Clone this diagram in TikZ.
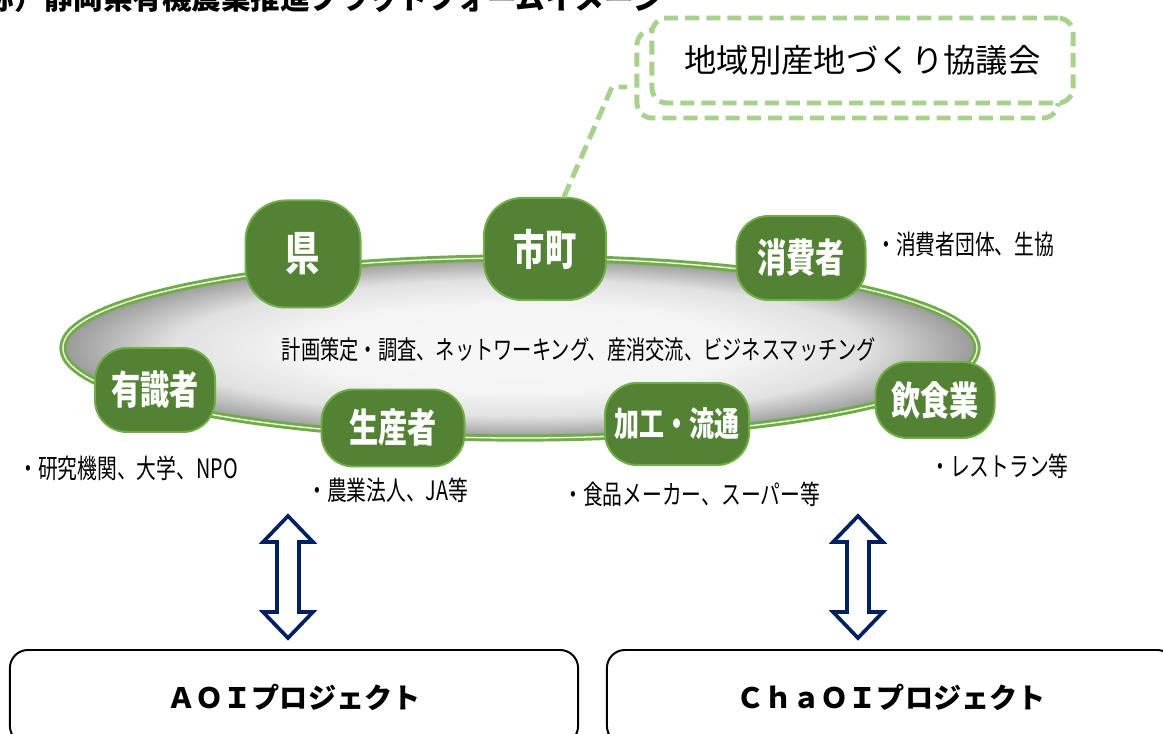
\documentclass[tikz,border=0pt]{standalone}
\usepackage{fontspec}
\newfontfamily\jpn{Noto Sans CJK JP}[FakeStretch=0.74]
\newfontfamily\jpwide{Noto Sans CJK JP}
\usetikzlibrary{shapes.geometric}
\definecolor{leafgreen}{HTML}{548235}
\definecolor{ringgreen}{HTML}{70AD47}
\definecolor{palegreen}{HTML}{A9D18E}
\definecolor{navy}{HTML}{002060}
\pgfdeclareradialshading{rim}{\pgfpoint{0bp}{0bp}}{color(0bp)=(black!3); color(12bp)=(black!4); color(19bp)=(black!12); color(25bp)=(black!40); color(50bp)=(black!40)}

\begin{document}
\begin{tikzpicture}[x=0.025cm, y=-0.025cm,
        actor/.style={rectangle, rounded corners=0.8cm, fill=leafgreen, draw=ringgreen, line width=1.4pt, text=white, inner sep=0pt, font=\jpn\bfseries\fontsize{28}{28}\selectfont},
        ring/.style={ellipse, minimum width=22.85cm, minimum height=4.5cm, inner sep=0pt, shade, shading=rim, draw=ringgreen, line width=2.1pt, double=white, double distance=0.9pt},
        note/.style={anchor=west, inner sep=0pt, font=\jpn\fontsize{19}{19}\selectfont},
        callbox/.style={rectangle, rounded corners=0.38cm, draw=palegreen, line width=3.5pt, dash pattern=on 10pt off 5pt, minimum width=10.525cm},
        callline/.style={draw=palegreen, line width=3.5pt, dash pattern=on 10pt off 5pt},
        biarrow/.style={draw=navy, line width=2.6pt, fill=white, line join=miter},
        project/.style={rectangle, rounded corners=0.45cm, draw=black, line width=1.4pt, minimum width=14.2cm, minimum height=2.35cm, font=\jpwide\bfseries\fontsize{20}{20}\selectfont}
    ]
    \useasboundingbox (0,0) rectangle (1163,734);

    \node[anchor=south east, inner sep=0pt, font=\jpwide\bfseries\fontsize{21}{21}\selectfont] (title) at (663,13) {（仮称）静岡県有機農業推進プラットフォームイメージ};

    \node[ring] (ring) at (520,348) {};

    \node[callbox, minimum height=2.2cm] (callback) at (847.5,74) {};
    \node[callbox, fill=white, minimum height=2.125cm, font=\jpwide\fontsize{23}{23}\selectfont] (callout) at (862.5,60.5) {地域別産地づくり協議会};

    \node[actor, minimum width=2.875cm, minimum height=2.675cm, rounded corners=1cm, font=\jpn\bfseries\fontsize{33}{33}\selectfont] (ken) at (303,254) {県};
    \node[actor, minimum width=3.05cm, minimum height=2.55cm, rounded corners=0.95cm, font=\jpn\bfseries\fontsize{30}{30}\selectfont] (shicho) at (545,249) {市町};
    \node[actor, minimum width=3.225cm, minimum height=2.1cm] (shohisha) at (801,258) {消費者};
    \node[actor, minimum width=3cm, minimum height=2.1cm] (yushiki) at (155,390) {有識者};
    \node[actor, minimum width=3.575cm, minimum height=1.925cm] (seisan) at (393,428) {生産者};
    \node[actor, minimum width=3.6cm, minimum height=2.05cm, font=\jpn\bfseries\fontsize{24}{24}\selectfont] (kako) at (677,424) {加工・流通};
    \node[actor, minimum width=2.975cm, minimum height=1.9cm] (inshoku) at (935,400) {飲食業};

    \coordinate (elbow) at (612,87);
    \draw[callline] (shicho.70) -- (elbow) -- ++(15,0);

    \node[font=\jpn\fontsize{18.5}{18.5}\selectfont] (agenda) at (579,350) {計画策定・調査、ネットワーキング、産消交流、ビジネスマッチング};

    \node[note] (n-shohisha) at (876,244) {・消費者団体、生協};
    \node[note] (n-yushiki) at (18,468) {・研究機関、大学、NPO};
    \node[note] (n-seisan) at (307,490) {・農業法人、JA等};
    \node[note] (n-kako) at (563,494) {・食品メーカー、スーパー等};
    \node[note] (n-inshoku) at (930,466) {・レストラン等};

    \foreach \ax in {288,858}
        \draw[biarrow] (\ax,516) -- (\ax+25,542) -- (\ax+11,542) -- (\ax+11,612) -- (\ax+25,612) -- (\ax,638)
            -- (\ax-25,612) -- (\ax-11,612) -- (\ax-11,542) -- (\ax-25,542) -- cycle;

    \node[project] (aoi) at (294,697) {ＡＯＩプロジェクト};
    \node[project] (chaoi) at (891,697) {ＣｈａＯＩプロジェクト};
\end{tikzpicture}
\end{document}
